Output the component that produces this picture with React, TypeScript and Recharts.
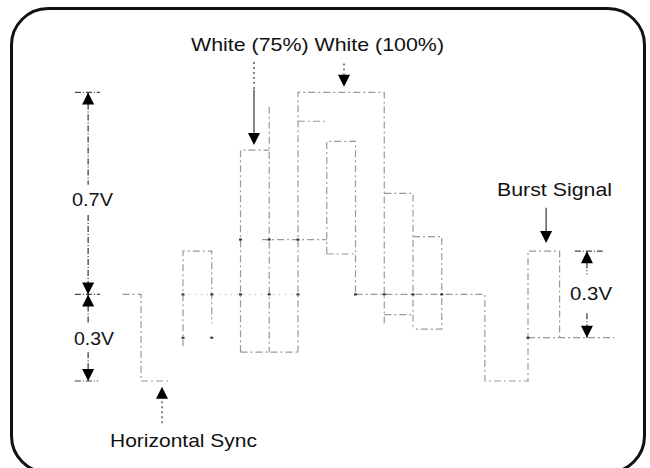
import React from 'react';
import { ComposedChart, Line, Scatter, XAxis, YAxis, ReferenceLine, ReferenceDot } from 'recharts';

// time in colour-bar widths (0 = start of first burst), level in volts above sync tip
const syncPulse = [{ t: -2.1, v: 0.3 }, { t: -1.46, v: 0.3 }, { t: -1.46, v: 0 }, { t: -0.45, v: 0 }];
const burstLeft = [{ t: 0, v: 0.12 }, { t: 0, v: 0.45 }, { t: 1, v: 0.45 }, { t: 1, v: 0.2 }];
const blankingRef = [{ t: 0, v: 0.3 }, { t: 4, v: 0.3 }];
const bar75 = [{ t: 2, v: 0.1 }, { t: 2, v: 0.8 }, { t: 3, v: 0.8 }];
const bar75Edge = [{ t: 3, v: 0.95 }, { t: 3, v: 0.1 }];
const barsBottom = [{ t: 2, v: 0.1 }, { t: 4, v: 0.1 }];
const white100 = [{ t: 4, v: 0.1 }, { t: 4, v: 1 }, { t: 7, v: 1 }, { t: 7, v: 0.2 }];
const white100Inner = [{ t: 4, v: 0.9 }, { t: 5, v: 0.9 }];
const midLevel = [{ t: 2.75, v: 0.49 }, { t: 5, v: 0.49 }];
const barC = [{ t: 5, v: 0.44 }, { t: 5, v: 0.83 }, { t: 6, v: 0.83 }, { t: 6, v: 0.3 }];
const barCBottom = [{ t: 5, v: 0.44 }, { t: 6, v: 0.44 }];
const barD = [{ t: 7, v: 0.65 }, { t: 8, v: 0.65 }, { t: 8, v: 0.18 }];
const barDBottom = [{ t: 7, v: 0.23 }, { t: 8, v: 0.23 }];
const barE = [{ t: 8, v: 0.5 }, { t: 9, v: 0.5 }, { t: 9, v: 0.18 }, { t: 8, v: 0.18 }];
const tail = [
  { t: 6, v: 0.3 }, { t: 10.5, v: 0.3 }, { t: 10.5, v: 0 }, { t: 12, v: 0 },
  { t: 12, v: 0.45 }, { t: 13.1, v: 0.45 }, { t: 13.1, v: 0.15 },
];
const burstBase = [{ t: 12, v: 0.15 }, { t: 15, v: 0.15 }];

const traces = [
  syncPulse, burstLeft, bar75, bar75Edge, barsBottom, white100, white100Inner, midLevel,
  barC, barCBottom, barD, barDBottom, barE, tail, burstBase,
];

const crossTicks = [
  { t: 0, v: 0.3 }, { t: 1, v: 0.3 }, { t: 2, v: 0.3 }, { t: 3, v: 0.3 }, { t: 4, v: 0.3 },
  { t: 0, v: 0.15 }, { t: 1, v: 0.15 }, { t: 2, v: 0.49 }, { t: 3, v: 0.49 }, { t: 4, v: 0.49 },
  { t: 6, v: 0.3 }, { t: 7, v: 0.3 }, { t: 8, v: 0.3 }, { t: 9, v: 0.3 }, { t: 12, v: 0.15 },
];

// annotation arrows: shafts and heads
const dimLeftT = -3.3;
const dimRightT = 14.05;
const shafts = [
  { x: dimLeftT, from: 1, to: 0.68, dash: '6 2 1 2' },
  { x: dimLeftT, from: 0.575, to: 0.3, dash: '6 2 1 2' },
  { x: dimLeftT, from: 0.3, to: 0.2, dash: '6 2 1 2' },
  { x: dimLeftT, from: 0.1, to: 0, dash: '6 2 1 2' },
  { x: 2.47, from: 1.105, to: 1.01, dash: '2 3' },
  { x: 2.47, from: 1.01, to: 0.86, dash: undefined },
  { x: 5.6, from: 1.1, to: 1.04, dash: '2 3' },
  { x: 12.63, from: 0.6, to: 0.52, dash: undefined },
  { x: -0.73, from: -0.07, to: -0.152, dash: '2 3' },
  { x: dimRightT, from: 0.45, to: 0.37, dash: '6 2 1 2' },
  { x: dimRightT, from: 0.235, to: 0.15, dash: '6 2 1 2' },
];
const extLines = [
  { v: 1, from: -3.76, to: -2.89 },
  { v: 0.3, from: -3.76, to: -2.89 },
  { v: 0, from: -3.76, to: -2.95 },
  { v: 0.45, from: 13.63, to: 14.6 },
];
const heads = [
  { t: dimLeftT, v: 1, dir: 'up' },
  { t: dimLeftT, v: 0.3, dir: 'down' },
  { t: dimLeftT, v: 0.3, dir: 'up' },
  { t: dimLeftT, v: 0, dir: 'down' },
  { t: 2.47, v: 0.818, dir: 'down' },
  { t: 5.6, v: 1.02, dir: 'down' },
  { t: 12.63, v: 0.478, dir: 'down' },
  { t: -0.73, v: -0.02, dir: 'up' },
  { t: dimRightT, v: 0.45, dir: 'up' },
  { t: dimRightT, v: 0.15, dir: 'down' },
];

const labels = [
  { text: 'White (75%) White (100%)', x: 191, y: 51, len: 253 },
  { text: '0.7V', x: 72, y: 206, len: 41 },
  { text: '0.3V', x: 74, y: 345, len: 40 },
  { text: 'Burst Signal', x: 497, y: 196, len: 115 },
  { text: '0.3V', x: 570, y: 300, len: 42 },
  { text: 'Horizontal Sync', x: 110, y: 447, len: 147 },
];

const TRACE = '#999';

const arrowHead = (dir: string) => (props: any) => {
  const { cx, cy } = props;
  if (cx == null || cy == null) return <g />;
  const w = 6;
  const h = 12;
  const pts =
    dir === 'up'
      ? `${cx},${cy} ${cx - w},${cy + h} ${cx + w},${cy + h}`
      : `${cx},${cy} ${cx - w},${cy - h} ${cx + w},${cy - h}`;
  return <polygon points={pts} fill="#000" />;
};

const tickMark = (props: any) => {
  const { cx, cy } = props;
  if (cx == null || cy == null) return <g />;
  return <rect x={cx - 1.5} y={cy - 1} width={3} height={2} fill="#333" />;
};

export default function App() {
  return (
    <div style={{ position: 'fixed', left: 0, top: 0, width: 650, height: 468, overflow: 'hidden', background: '#fff' }}>
      <div style={{ position: 'absolute', left: 0, top: 0 }}>
        <ComposedChart width={650} height={468} margin={{ top: 34.7, right: 7, bottom: 29.3, left: 62.25 }}>
          <XAxis type="number" dataKey="t" domain={[-4.2, 16]} hide allowDataOverflow />
          <YAxis type="number" domain={[-0.2, 1.2]} hide allowDataOverflow />
          <Line
            data={blankingRef}
            dataKey="v"
            type="linear"
            stroke="#aaa"
            strokeWidth={1}
            strokeDasharray="1 5"
            dot={false}
            isAnimationActive={false}
          />
          {traces.map((d, i) => (
            <Line
              key={i}
              data={d}
              dataKey="v"
              type="linear"
              stroke={TRACE}
              strokeWidth={1.2}
              strokeDasharray="7 3 2 3"
              dot={false}
              isAnimationActive={false}
            />
          ))}
          <Scatter data={crossTicks} dataKey="v" shape={tickMark} isAnimationActive={false} />
          {shafts.map((s, i) => (
            <ReferenceLine
              key={'s' + i}
              segment={[{ x: s.x, y: s.from }, { x: s.x, y: s.to }]}
              stroke="#333"
              strokeWidth={1.2}
              strokeDasharray={s.dash}
              ifOverflow="visible"
            />
          ))}
          {extLines.map((e, i) => (
            <ReferenceLine
              key={'e' + i}
              segment={[{ x: e.from, y: e.v }, { x: e.to, y: e.v }]}
              stroke="#444"
              strokeWidth={1.2}
              strokeDasharray="6 2 1 2"
              ifOverflow="visible"
            />
          ))}
          {heads.map((h, i) => (
            <ReferenceDot key={'h' + i} x={h.t} y={h.v} r={6} ifOverflow="visible" shape={arrowHead(h.dir)} />
          ))}
        </ComposedChart>
      </div>
      <svg width={650} height={468} style={{ position: 'absolute', left: 0, top: 0, pointerEvents: 'none' }}>
        {labels.map((l, i) => (
          <text
            key={i}
            x={l.x}
            y={l.y}
            textLength={l.len}
            lengthAdjust="spacingAndGlyphs"
            fontFamily="'Liberation Sans', Arial, sans-serif"
            fontSize={19}
            fill="#111"
          >
            {l.text}
          </text>
        ))}
      </svg>
      <div
        style={{
          position: 'absolute',
          left: 10,
          top: 7,
          width: 636,
          height: 467,
          border: '3px solid #111',
          borderRadius: 38,
          boxSizing: 'border-box',
        }}
      />
    </div>
  );
}
